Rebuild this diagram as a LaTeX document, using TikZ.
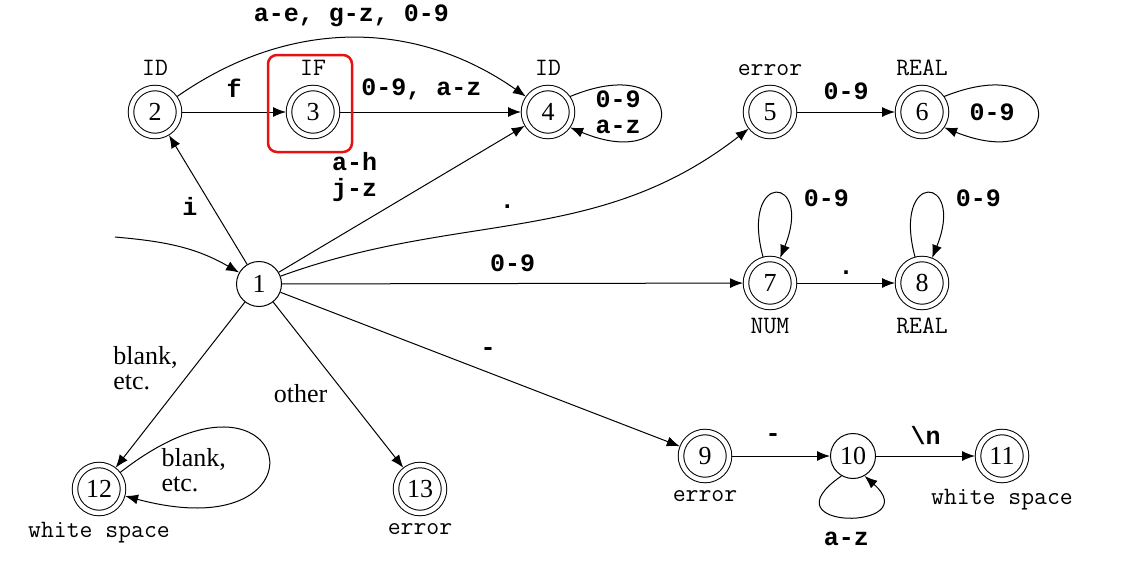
\documentclass[tikz,border=0pt]{standalone}
\usepackage{fontspec}
\setmainfont{Liberation Serif}
\newfontfamily\boldmono{Liberation Mono}
\usetikzlibrary{arrows.meta,positioning,fit}

\definecolor{boxred}{RGB}{232,16,16}
\newcommand{\numfont}{\fontsize{26}{28}\selectfont}
\newcommand{\tagfont}{\fontsize{25}{25}\selectfont\ttfamily}
\newcommand{\symfont}{\fontsize{25}{26}\selectfont\boldmono\bfseries}
\newcommand{\wordfont}{\fontsize{26}{25}\selectfont}

\begin{document}
\begin{tikzpicture}[
    x=1pt, y=1pt,
    state/.style={circle, draw, line width=1pt, minimum size=45pt, inner sep=0pt, font=\numfont},
    accept/.style={state, double, double distance=4.5pt, minimum size=48pt, outer sep=3pt},
    tag/.style={font=\tagfont, inner sep=1pt},
    sym/.style={font=\symfont, inner sep=2pt, align=center},
    word/.style={font=\wordfont, inner sep=1pt, align=left},
    arr/.style={-{Latex[length=13pt, width=10pt]}, line width=1pt},
    ifbox/.style={draw=boxred, line width=2.5pt, rounded corners=9pt},
    node distance=100pt, on grid
]
    \useasboundingbox (0,0) rectangle (1122,-574);

    % Start state
    \node[state] (n1) at (259,-284) {1};
    \coordinate (start) at (115,-237);

    % Identifiers and keyword IF
    \node[accept, above left=172pt and 104pt of n1, label={[tag, label distance=8pt]above:ID}] (n2) {2};
    \node[accept, right=158pt of n2, label={[tag, label distance=8pt]above:IF}] (n3) {3};
    \node[accept, right=235pt of n3, label={[tag, label distance=8pt]above:ID}] (n4) {4};

    % Numbers
    \node[accept, right=222pt of n4, label={[tag, label distance=8pt]above:error}] (n5) {5};
    \node[accept, right=152pt of n5, label={[tag, label distance=8pt]above:REAL}] (n6) {6};
    \node[accept, below=171pt of n5, label={[tag, label distance=7pt]below:NUM}] (n7) {7};
    \node[accept, right=152pt of n7, label={[tag, label distance=7pt]below:REAL}] (n8) {8};

    % Comments
    \node[accept, below right=172pt and 446pt of n1, label={[tag, label distance=6pt]below:error}] (n9) {9};
    \node[state, right=148pt of n9] (n10) {10};
    \node[accept, right=149pt of n10, label={[tag, label distance=5pt]below:white space}] (n11) {11};

    % White space and other
    \node[accept, below left=205pt and 160pt of n1, label={[tag, label distance=5pt]below:white space}] (n12) {12};
    \node[accept, right=321pt of n12, label={[tag, label distance=6pt]below:error}] (n13) {13};

    % Transitions
    \draw[arr] (start) to[out=-5, in=150] (n1);
    \draw[arr] (n1) -- node[sym, pos=0.45, left=12pt] {i} (n2);
    \draw[arr] (n2) -- node[sym, above=12pt] {f} (n3);
    \draw[arr] (n3) -- node[sym, pos=0.45, above=10pt] {0-9, a-z} (n4);
    \draw[arr] (n2) to[out=35, in=145] node[sym, above=9pt] {a-e, g-z, 0-9} (n4);
    \draw[arr] (n1) -- node[sym, pos=0.41, anchor=south east, yshift=8pt] {a-h\\j-z} (n4);
    \draw[arr] (n4.35) .. controls +(120,50) and +(120,-50) .. node[sym, left=17pt] {0-9\\a-z} (n4.-35);
    \draw[arr] (n1) to[out=20, in=218] node[sym, pos=0.46, above=14pt] {.} (n5);
    \draw[arr] (n5) -- node[sym, above=10pt] {0-9} (n6);
    \draw[arr] (n6.35) .. controls +(124,50) and +(124,-50) .. node[sym, left=20pt] {0-9} (n6.-35);
    \draw[arr] (n1) -- node[sym, above=9pt] {0-9} (n7);
    \draw[arr] (n7) to[out=105, in=68, min distance=90pt] node[sym, right=26pt, yshift=-5pt] {0-9} (n7);
    \draw[arr] (n7) -- node[sym, above=6pt] {.} (n8);
    \draw[arr] (n8) to[out=105, in=68, min distance=90pt] node[sym, right=26pt, yshift=-5pt] {0-9} (n8);
    \draw[arr] (n1) -- node[sym, pos=0.52, above=14pt] {-} (n9);
    \draw[arr] (n9) -- node[sym, pos=0.42, above=12pt] {-} (n10);
    \draw[arr] (n10) -- node[sym, above=9pt] {\textbackslash n} (n11);
    \draw[arr] (n10.240) .. controls +(-80,-55) and +(62,-55) .. node[sym, below=12pt] {a-z} (n10.300);
    \draw[arr] (n1) -- node[word, pos=0.4, left=14pt] {blank,\\etc.} (n12);
    \draw[arr] (n12) to[out=38, in=-15, min distance=220pt] node[word, left=40pt, yshift=-15pt] {blank,\\etc.} (n12);
    \draw[arr] (n1) -- node[word, pos=0.55, left=16pt] {other} (n13);

    % Highlight of the IF state
    \node[ifbox, minimum width=84pt, minimum height=97pt] (box3) at ([shift={(-3,8.5)}]n3.center) {};
\end{tikzpicture}
\end{document}
